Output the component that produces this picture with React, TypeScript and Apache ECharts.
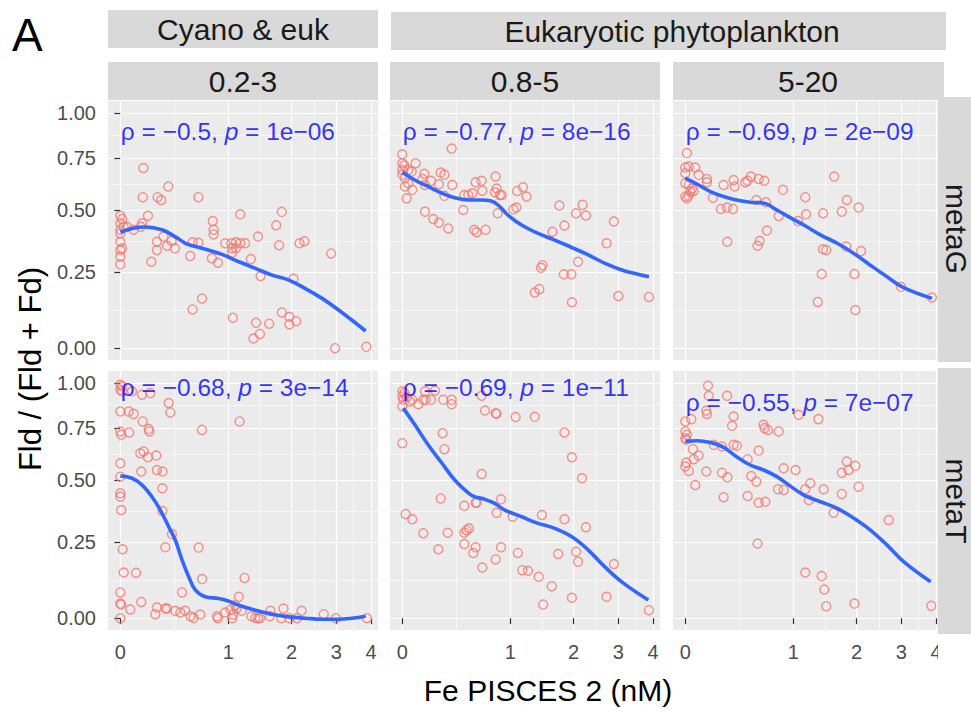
import React, { useEffect, useRef } from 'react';
import * as echarts from 'echarts';

// ---------- tick labels & facets ----------
const xTickValues = [0, 1, 2, 3, 4];
const xTickLabels = ['0', '1', '2', '3', '4'];
const yTickValues = [0, 0.25, 0.5, 0.75, 1];
const yTickLabels = ['0.00', '0.25', '0.50', '0.75', '1.00'];
const sizeClasses = ['0.2-3', '0.8-5', '5-20'];
const groupLabels = ['Cyano & euk', 'Eukaryotic phytoplankton'];
const dataTypes = ['metaG', 'metaT'];

// ---------- correlation annotations (panel order: G 0.2-3, G 0.8-5, G 5-20, T 0.2-3, T 0.8-5, T 5-20) ----------
const rhoValues = ['−0.5', '−0.77', '−0.69', '−0.68', '−0.69', '−0.55'];
const pValues = ['1e−06', '8e−16', '2e−09', '3e−14', '1e−11', '7e−07'];
const labelY = [0.893, 0.893, 0.893, 0.975, 0.975, 0.887];

// ---------- points [Fe nM, Fld/(Fld+Fd)] ----------
const metaG_02_3: [number, number][] = [
  [0.16, 0.70], [0.36, 0.61], [0.155, 0.56], [0.27, 0.56], [0.30, 0.547], [0.65, 0.56],
  [0, 0.477], [0.011, 0.463], [0, 0.445], [0.022, 0.43], [0, 0.417], [0, 0.402], [0, 0.368], [0.011, 0.342], [0, 0.335], [0, 0.309], [0, 0.28],
  [0.194, 0.477], [0.15, 0.445], [0.14, 0.43], [0.044, 0.43], [0.089, 0.417],
  [0.265, 0.368], [0.32, 0.389], [0.35, 0.352], [0.265, 0.335], [0.42, 0.342], [0.22, 0.29], [0.39, 0.371],
  [0.59, 0.366], [0.65, 0.364], [0.567, 0.312],
  [0.81, 0.454], [0.82, 0.417], [0.82, 0.398], [0.80, 0.303], [0.87, 0.286],
  [0.96, 0.362], [1.04, 0.362], [1.10, 0.366], [1.16, 0.362], [1.23, 0.362], [1.05, 0.342], [1.10, 0.342], [1.05, 0.325],
  [1.16, 0.483], [1.31, 0.30], [1.42, 0.389], [1.46, 0.237],
  [1.72, 0.436], [1.82, 0.494], [1.77, 0.354], [2.04, 0.227], [2.16, 0.362], [2.26, 0.37], [2.87, 0.322],
  [0.59, 0.121], [0.69, 0.158], [1.06, 0.094], [1.39, 0.078], [1.60, 0.075], [1.45, 0.043], [1.35, 0.029],
  [1.82, 0.111], [1.96, 0.097], [1.96, 0.073], [2.09, 0.083], [2.97, 0], [3.85, 0.004],
];
const metaG_08_5: [number, number][] = [
  [0.373, 0.80], [0, 0.77],
  [0, 0.724], [0.013, 0.712], [0, 0.69], [0.039, 0.69], [0.062, 0.682], [0, 0.666], [0.017, 0.65], [0.039, 0.625], [0.017, 0.61], [0.066, 0.594], [0.028, 0.555],
  [0.089, 0.724], [0.152, 0.671], [0.139, 0.646], [0.157, 0.617], [0.202, 0.637],
  [0.279, 0.677], [0.31, 0.666], [0.265, 0.621], [0.378, 0.617], [0.31, 0.566],
  [0.157, 0.495], [0.22, 0.463], [0.265, 0.447], [0.343, 0.423],
  [0.489, 0.57], [0.527, 0.57], [0.567, 0.578], [0.479, 0.502], [0.601, 0.63], [0.664, 0.637], [0.671, 0.59],
  [0.587, 0.417], [0.611, 0.407], [0.707, 0.417],
  [0.82, 0.658], [0.832, 0.60], [0.813, 0.583], [0.872, 0.57], [0.892, 0.57], [0.844, 0.488],
  [1.04, 0.505], [1.08, 0.513], [1.09, 0.589], [1.17, 0.606], [1.22, 0.563],
  [1.62, 0.409], [1.74, 0.522], [1.83, 0.435], [2.05, 0.488], [2.18, 0.525], [2.25, 0.478], [2.89, 0.452], [2.71, 0.362],
  [1.46, 0.277], [1.435, 0.267], [2.09, 0.29], [1.82, 0.243], [1.96, 0.243],
  [1.34, 0.178], [1.41, 0.19], [1.97, 0.145], [3.0, 0.166], [3.87, 0.163],
];
const metaG_5_20: [number, number][] = [
  [0.011, 0.776],
  [0, 0.702], [0.022, 0.707], [0.066, 0.702], [0, 0.674], [0.089, 0.666], [0, 0.625], [0.022, 0.617], [0.044, 0.60], [0.055, 0.589], [0.033, 0.586], [0.022, 0.566], [0, 0.563], [0.011, 0.555],
  [0.149, 0.646], [0.149, 0.63], [0.194, 0.557], [0.279, 0.617], [0.364, 0.641], [0.373, 0.61], [0.47, 0.63], [0.492, 0.637], [0.524, 0.658], [0.601, 0.646], [0.66, 0.637],
  [0.257, 0.507], [0.307, 0.513], [0.358, 0.507],
  [0.577, 0.547], [0.678, 0.537], [0.872, 0.594],
  [0.31, 0.368], [0.611, 0.371], [0.59, 0.352], [0.689, 0.414],
  [0.82, 0.476], [1.06, 0.454], [1.16, 0.56], [1.17, 0.483],
  [1.60, 0.658], [1.42, 0.488], [1.73, 0.495], [1.82, 0.547], [2.04, 0.513],
  [1.42, 0.338], [1.47, 0.335], [1.81, 0.349], [2.09, 0.331],
  [1.40, 0.244], [1.96, 0.244], [1.34, 0.146], [1.98, 0.119], [2.99, 0.198], [3.87, 0.161],
];
const metaT_02_3: [number, number][] = [
  [0, 0.988], [0.011, 0.979], [0, 0.959], [0.011, 0.95], [0.078, 0.95], [0.149, 0.931], [0.212, 0.94],
  [0.364, 0.884], [0.378, 0.833],
  [0, 0.838], [0.055, 0.838], [0.089, 0.825], [0.154, 0.785], [0.20, 0.745], [0.205, 0.733],
  [0, 0.733], [0.006, 0.716], [0.059, 0.728],
  [1.15, 0.785], [0.689, 0.741],
  [0.137, 0.625], [0.162, 0.634], [0.194, 0.606], [0.26, 0.614], [0.144, 0.54], [0.265, 0.547], [0.312, 0.54],
  [0, 0.578], [0, 0.517], [0, 0.445], [0, 0.43], [0.006, 0.375],
  [0.31, 0.466], [0.31, 0.371], [0.393, 0.281],
  [0.335, 0.232], [0.653, 0.231], [0.015, 0.225],
  [0.022, 0.144], [0.106, 0.143], [0.69, 0.122], [1.22, 0.126],
  [0, 0.079], [0, 0.044], [0.006, 0.041], [0.066, 0.026], [0.144, 0.049], [0, 0], [0.486, 0.079],
  [0.265, 0.032], [0.252, 0.012], [0.335, 0.029], [0.35, 0.029], [0.423, 0.022], [0.47, 0.017], [0.518, 0.022], [0.567, 0.006], [0.601, 0.001], [0.671, 0.011],
  [0.86, 0.006], [0.87, 0], [0.96, 0.017], [1.03, 0.026], [1.06, 0.011], [1.11, 0.029], [1.09, 0.039], [1.14, 0.065], [1.18, 0.022], [1.05, 0],
  [1.32, 0.006], [1.38, 0.001], [1.42, 0], [1.45, 0], [1.61, 0.006], [1.62, 0.022], [1.81, 0], [1.85, 0.029], [1.96, 0], [2.11, 0], [2.20, 0.022],
  [2.69, 0.012], [2.99, 0], [3.87, 0],
];
const metaT_08_5: [number, number][] = [
  [0, 0.95], [0.013, 0.94], [0, 0.921], [0.006, 0.902], [0.028, 0.917], [0, 0.865], [0.05, 0.893], [0.066, 0.902], [0.108, 0.878], [0.144, 0.902],
  [0.157, 0.95], [0.162, 0.902], [0.202, 0.902], [0.233, 0.955], [0.301, 0.902], [0.373, 0.902], [0.373, 0.878], [0.664, 0.925],
  [0.70, 0.843], [0.82, 0.829], [0.832, 0.826], [1.07, 0.808], [1.34, 0.809],
  [0.295, 0.724], [0.31, 0.645], [0, 0.674],
  [1.83, 0.728], [1.97, 0.606], [2.17, 0.51],
  [0.664, 0.529],
  [0.279, 0.423], [0.489, 0.392], [0.601, 0.405], [0.611, 0.405], [0.884, 0.419], [0.832, 0.364], [1.03, 0.348], [1.45, 0.355], [1.83, 0.338], [2.25, 0.307],
  [0.022, 0.359], [0.066, 0.338], [0.144, 0.284], [0.338, 0.286], [0.489, 0.286], [0.511, 0.296], [0.534, 0.303], [0.26, 0.225], [0.489, 0.244],
  [0.577, 0.212], [0.601, 0.232], [0.671, 0.161], [0.82, 0.189], [0.884, 0.232], [1.10, 0.212], [1.16, 0.152], [1.24, 0.15], [1.40, 0.13],
  [1.61, 0.099], [1.47, 0.041], [1.72, 0.208], [2.05, 0.216], [2.09, 0.181], [1.97, 0.062], [2.71, 0.065], [2.89, 0.173], [3.87, 0.024],
];
const metaT_5_20: [number, number][] = [
  [0.157, 0.983], [0.162, 0.925], [0.307, 0.925], [0.144, 0.843], [0.149, 0.824], [0.364, 0.811], [0.35, 0.762], [0.039, 0.797],
  [0, 0.785], [0, 0.733], [0.011, 0.716], [0, 0.699], [0.006, 0.691],
  [1.07, 0.82], [1.35, 0.797], [0.653, 0.767], [0.664, 0.75], [0.70, 0.741], [0.82, 0.733],
  [0.364, 0.666], [0.393, 0.661], [0.20, 0.666], [0.265, 0.658], [0.601, 0.638], [0.05, 0.645], [0.089, 0.614], [0.055, 0.597],
  [0.006, 0.581], [0, 0.563], [0.022, 0.543], [0.144, 0.54], [0.265, 0.535], [0.31, 0.514],
  [0.492, 0.597], [0.527, 0.52], [0.577, 0.495], [0.88, 0.555], [1.03, 0.547], [0.066, 0.48],
  [0.279, 0.428], [0.492, 0.433], [0.601, 0.405], [0.671, 0.409], [0.813, 0.462], [0.88, 0.459],
  [1.16, 0.462], [1.23, 0.488], [1.21, 0.416], [1.43, 0.462], [1.59, 0.364], [1.73, 0.442], [1.73, 0.535],
  [1.82, 0.586], [1.85, 0.547], [1.98, 0.566], [2.04, 0.473], [2.69, 0.335], [0.59, 0.246],
  [1.16, 0.144], [1.40, 0.132], [1.44, 0.088], [1.47, 0.036], [1.96, 0.044], [3.85, 0.037],
];

// ---------- loess smooth curves ----------
const smoothG_02_3: [number, number][] = [
  [0, 0.407], [0.078, 0.423], [0.174, 0.429], [0.306, 0.417], [0.42, 0.389], [0.52, 0.362], [0.62, 0.349], [0.76, 0.335], [0.92, 0.318],
  [1.14, 0.29], [1.38, 0.265], [1.65, 0.24], [1.95, 0.222], [2.28, 0.192], [2.65, 0.158], [3.06, 0.119], [3.83, 0.052],
];
const smoothG_08_5: [number, number][] = [
  [0, 0.679], [0.083, 0.641], [0.18, 0.61], [0.29, 0.578], [0.40, 0.557], [0.53, 0.547], [0.66, 0.547], [0.77, 0.543], [0.87, 0.517],
  [0.97, 0.48], [1.15, 0.437], [1.39, 0.402], [1.66, 0.375], [1.97, 0.345], [2.30, 0.316], [2.67, 0.284], [3.09, 0.259], [3.87, 0.234],
];
const smoothG_5_20: [number, number][] = [
  [0, 0.65], [0.078, 0.621], [0.174, 0.586], [0.279, 0.563], [0.39, 0.547], [0.517, 0.537], [0.62, 0.535], [0.69, 0.528], [0.80, 0.502],
  [0.96, 0.469], [1.14, 0.437], [1.38, 0.396], [1.65, 0.362], [1.95, 0.322], [2.28, 0.277], [2.65, 0.234], [3.06, 0.195], [3.87, 0.158],
];
const smoothT_02_3: [number, number][] = [
  [0, 0.52], [0.078, 0.51], [0.149, 0.481], [0.225, 0.43], [0.293, 0.375], [0.364, 0.309], [0.423, 0.259], [0.486, 0.187], [0.551, 0.13],
  [0.62, 0.086], [0.726, 0.065], [0.88, 0.06], [1.0, 0.052], [1.14, 0.039], [1.38, 0.024], [1.65, 0.012], [1.95, 0.004], [2.28, 0],
  [2.65, -0.003], [3.06, -0.003], [3.42, 0], [3.83, 0.006],
];
const smoothT_08_5: [number, number][] = [
  [0.006, 0.856], [0.084, 0.767], [0.18, 0.666], [0.29, 0.578], [0.40, 0.502], [0.53, 0.445], [0.59, 0.43], [0.70, 0.419], [0.81, 0.402],
  [0.93, 0.375], [1.15, 0.348], [1.39, 0.322], [1.66, 0.303], [1.97, 0.271], [2.30, 0.222], [2.67, 0.163], [3.09, 0.113], [3.85, 0.055],
];
const smoothT_5_20: [number, number][] = [
  [0, 0.683], [0.078, 0.686], [0.174, 0.677], [0.279, 0.654], [0.39, 0.609], [0.517, 0.57], [0.653, 0.547], [0.80, 0.517], [0.96, 0.476],
  [1.14, 0.437], [1.38, 0.409], [1.65, 0.382], [1.95, 0.342], [2.28, 0.296], [2.65, 0.24], [3.06, 0.181], [3.83, 0.113],
];

const panelPoints = [metaG_02_3, metaG_08_5, metaG_5_20, metaT_02_3, metaT_08_5, metaT_5_20];
const panelSmooth = [smoothG_02_3, smoothG_08_5, smoothG_5_20, smoothT_02_3, smoothT_08_5, smoothT_5_20];

// ---------- layout ----------
const FONT = '"Liberation Sans", Arial, Helvetica, sans-serif';
const colLeft = [108, 390, 673];
const rowTop = [101, 371];
const PW = 270;
const PH = 259;
// log1p-transformed axis limits (ggplot 5% expansion)
const X_MIN = -0.079;
const X_MAX = 1.654;
const Y_MIN = -0.0347;
const Y_MAX = 0.7278;

const tr = (v: number) => Math.log1p(v);
const midpoints = (vals: number[]) => vals.slice(1).map((v, i) => (tr(vals[i]) + tr(v)) / 2);
const labelFor = (vals: number[], labels: string[]) => (v: number) => {
  const k = vals.findIndex((t) => Math.abs(tr(t) - v) < 1e-6);
  return k >= 0 ? labels[k] : '';
};

function buildOption(): any {
  const grid: any[] = [];
  const xAxis: any[] = [];
  const yAxis: any[] = [];
  const series: any[] = [];
  const xMajor = xTickValues.map(tr);
  const yMajor = yTickValues.map(tr);
  const xMinor = midpoints(xTickValues);
  const yMinor = midpoints(yTickValues);

  for (let i = 0; i < 6; i++) {
    const r = Math.floor(i / 3);
    const c = i % 3;
    grid.push({
      left: colLeft[c], top: rowTop[r], width: PW, height: PH,
      show: true, backgroundColor: '#EBEBEB', borderWidth: 0,
    });
    // minor axes (grid lines only)
    xAxis.push({
      gridIndex: i, type: 'value', min: X_MIN, max: X_MAX, position: 'top',
      axisLine: { show: false }, axisLabel: { show: false },
      axisTick: { show: false, customValues: xMinor },
      splitLine: { show: true, lineStyle: { color: '#FFFFFF', width: 0.6 } },
    });
    yAxis.push({
      gridIndex: i, type: 'value', min: Y_MIN, max: Y_MAX, position: 'right',
      axisLine: { show: false }, axisLabel: { show: false },
      axisTick: { show: false, customValues: yMinor },
      splitLine: { show: true, lineStyle: { color: '#FFFFFF', width: 0.6 } },
    });
    // major axes
    xAxis.push({
      gridIndex: i, type: 'value', min: X_MIN, max: X_MAX, position: 'bottom',
      axisLine: { show: false },
      axisTick: { show: r === 1, customValues: xMajor, length: 6, lineStyle: { color: '#333333', width: 1.2 } },
      axisLabel: {
        show: r === 1, customValues: xMajor, margin: 12, color: '#4D4D4D', fontSize: 20, fontFamily: FONT,
        formatter: labelFor(xTickValues, xTickLabels),
      },
      splitLine: { show: true, lineStyle: { color: '#FFFFFF', width: 1.2 } },
    });
    yAxis.push({
      gridIndex: i, type: 'value', min: Y_MIN, max: Y_MAX, position: 'left',
      axisLine: { show: false },
      axisTick: { show: c === 0, customValues: yMajor, length: 6, lineStyle: { color: '#333333', width: 1.2 } },
      axisLabel: {
        show: c === 0, customValues: yMajor, margin: 12, color: '#4D4D4D', fontSize: 20, fontFamily: FONT,
        formatter: labelFor(yTickValues, yTickLabels),
      },
      splitLine: { show: true, lineStyle: { color: '#FFFFFF', width: 1.2 } },
    });
    const xi = 2 * i + 1;
    series.push({
      type: 'scatter', xAxisIndex: xi, yAxisIndex: xi, z: 3,
      data: panelPoints[i].map(([x, y]) => [tr(x), tr(y)]),
      symbol: 'circle', symbolSize: 9,
      itemStyle: { color: 'rgba(0,0,0,0)', borderColor: '#F8766D', borderWidth: 1.4 },
      silent: true,
    });
    series.push({
      type: 'line', xAxisIndex: xi, yAxisIndex: xi, z: 4,
      data: panelSmooth[i].map(([x, y]) => [tr(x), tr(y)]),
      showSymbol: false, smooth: 0.4,
      lineStyle: { color: '#3366FF', width: 3.6 },
      silent: true,
    });
    series.push({
      type: 'scatter', xAxisIndex: xi, yAxisIndex: xi, z: 5,
      data: [[0, tr(labelY[i])]],
      symbolSize: 1, itemStyle: { color: 'rgba(0,0,0,0)' },
      silent: true,
      label: {
        show: true, position: 'right', distance: 0,
        formatter: `ρ = ${rhoValues[i]}, {it|p} = ${pValues[i]}`,
        color: '#0000FF', fontSize: 24.5, fontFamily: FONT,
        rich: { it: { fontStyle: 'italic', color: '#0000FF', fontSize: 24.5, fontFamily: FONT } },
      },
    });
  }

  const stripText = (text: string, x: number, y: number, extra: any = {}) => ({
    type: 'text', x, y, z: 101, ...extra,
    style: { text, textAlign: 'center', textVerticalAlign: 'middle', fontSize: 30, fontFamily: FONT, fill: '#1A1A1A' },
  });
  const rect = (x: number, y: number, w: number, h: number, fill = '#D9D9D9') => ({
    type: 'rect', z: 100, shape: { x, y, width: w, height: h }, style: { fill },
  });

  const graphic: any[] = [
    // top-level group strips
    rect(108, 10, 270, 38), stripText(groupLabels[0], 243, 29),
    rect(391, 12, 555, 38), stripText(groupLabels[1], 672, 31),
    // size-class strips
    rect(108, 62, 270, 38), stripText(sizeClasses[0], 243, 81),
    rect(390, 62, 270, 38), stripText(sizeClasses[1], 525, 81),
    rect(673, 62, 271, 38), stripText(sizeClasses[2], 808, 81),
    // white cover on right
    rect(938, 634, 33, 78, '#FFFFFF'),
    // row strips
    rect(938, 97, 33, 265), stripText(dataTypes[0], 956, 229, { rotation: -Math.PI / 2 }),
    rect(938, 368, 33, 266), stripText(dataTypes[1], 956, 501, { rotation: -Math.PI / 2 }),
    // axis titles
    {
      type: 'text', x: 30, y: 369, rotation: Math.PI / 2, z: 101,
      style: { text: 'Fld / (Fld + Fd)', textAlign: 'center', textVerticalAlign: 'middle', fontSize: 31, fontFamily: FONT, fill: '#000000' },
    },
    {
      type: 'text', x: 548, y: 690, z: 101,
      style: { text: 'Fe PISCES 2 (nM)', textAlign: 'center', textVerticalAlign: 'middle', fontSize: 30, fontFamily: FONT, fill: '#000000' },
    },
    {
      type: 'text', x: 12, y: 35, z: 101,
      style: { text: 'A', textAlign: 'left', textVerticalAlign: 'middle', fontSize: 46, fontFamily: FONT, fill: '#000000' },
    },
  ];

  return { animation: false, backgroundColor: '#FFFFFF', grid, xAxis, yAxis, series, graphic };
}

export default function App() {
  const ref = useRef<HTMLDivElement>(null);
  useEffect(() => {
    if (!ref.current) return;
    const chart = echarts.init(ref.current, null, { renderer: 'svg' });
    chart.setOption(buildOption());
    return () => chart.dispose();
  }, []);
  return (
    <div
      ref={ref}
      style={{ position: 'absolute', left: 0, top: 0, width: 971, height: 712, background: '#FFFFFF' }}
    />
  );
}
